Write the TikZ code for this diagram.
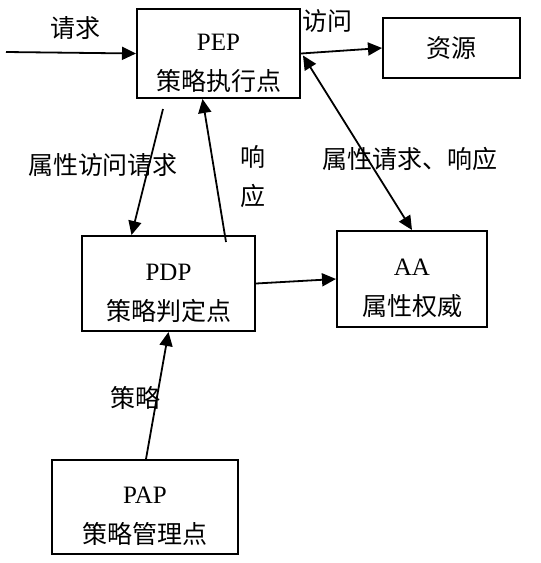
\documentclass[tikz,border=0pt]{standalone}
\usepackage{fontspec}
\setmainfont{Liberation Serif}
\newfontfamily\cjk{Noto Sans CJK SC}
\usetikzlibrary{arrows.meta,calc}
\newcommand{\toppad}{\rule{0pt}{18pt}}
\tikzset{
    box/.style={draw, line width=1pt, inner sep=0pt, align=center, font=\fontsize{12.5}{20}\selectfont},
    lbl/.style={inner sep=0pt, align=center, font=\fontsize{12.5}{19.5}\selectfont\cjk},
    arr/.style={line width=0.9pt, -{Triangle[length=7pt, width=6.5pt]}},
}
\begin{document}
\begin{tikzpicture}[x=0.5pt, y=-0.5pt]
    \useasboundingbox (0,0) rectangle (541,563);
    % boxes
    \node[box, minimum width=81.5pt, minimum height=44.5pt] (pep) at (218.5,53.5) {\toppad PEP\\{\cjk 策略执行点}};
    \node[box, minimum width=68.5pt, minimum height=30pt] (res) at (451.5,48) {\cjk 资源};
    \node[box, minimum width=86.5pt, minimum height=47.5pt] (pdp) at (168.5,283.5) {\toppad PDP\\{\cjk 策略判定点}};
    \node[box, minimum width=75pt, minimum height=48pt] (aa) at (412,279) {\toppad AA\\{\cjk 属性权威}};
    \node[box, minimum width=93pt, minimum height=47pt] (pap) at (145,507) {\toppad PAP\\{\cjk 策略管理点}};
    \coordinate (in) at (6,52);
    % arrows
    \draw[arr] (in) -- (pep.west);
    \draw[arr] (pep.east) -- (res.west);
    \draw[arr] ($(pep.south)+(-55.5,10)$) -- ($(pdp.north)+(-37,0)$);
    \draw[arr] ($(pdp.north)+(57.5,7)$) -- ($(pep.south)+(-16,0)$);
    \draw[line width=0.9pt, {Triangle[length=7pt, width=6.5pt]}-{Triangle[length=7pt, width=6.5pt]}] ($(pep.east)+(2,2)$) -- (aa.north);
    \draw[arr] (pdp.east) -- (aa.west);
    \draw[arr] ($(pap.north)+(1,0)$) -- (pdp.south);
    % labels
    \node[lbl] (lreq) at (75,28) {请求};
    \node[lbl] (lacc) at (327,21) {访问};
    \node[lbl] (lattr) at (103,165) {属性访问请求};
    \node[lbl] (lresp) at (253,177) {响\\应};
    \node[lbl] (laar) at (410,159) {属性请求、响应};
    \node[lbl] (lpol) at (135,398) {策略};
\end{tikzpicture}
\end{document}
